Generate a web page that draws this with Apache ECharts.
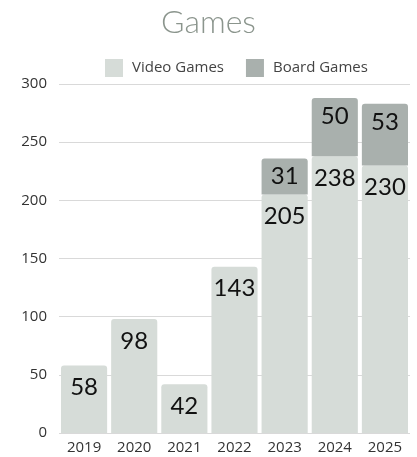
<!DOCTYPE html>
<html>
<head>
<meta charset="utf-8">
<script src="https://cdn.jsdelivr.net/npm/echarts@6/dist/echarts.min.js"></script>
<style>html,body{margin:0;padding:0;background:#fff}#c{width:417px;height:457px}</style>
</head>
<body>
<div id="c"></div>
<script>
const years = ['2019', '2020', '2021', '2022', '2023', '2024', '2025'];
const videoGames = [58, 98, 42, 143, 205, 238, 230];
const boardGames = [null, null, null, null, 31, 50, 53];
const yTicks = { min: 0, max: 300, interval: 50 };

const chart = echarts.init(document.getElementById('c'), null, { renderer: 'canvas' });
const labelStyle = {
  show: true,
  position: 'insideTop',
  distance: 10,
  fontFamily: 'Lato',
  fontSize: 24,
  color: '#111'
};
chart.setOption({
  animation: false,
  title: {
    text: 'Games',
    left: 'center',
    top: 2,
    textStyle: { fontFamily: 'Lato', fontWeight: 300, fontSize: 32, color: '#8b958d' }
  },
  legend: {
    top: 54,
    left: 100,
    itemWidth: 18,
    itemHeight: 18,
    itemGap: 22,
    icon: 'rect',
    textStyle: { fontFamily: 'Open Sans', fontSize: 15, color: '#444', padding: [0, 0, 0, 4] },
    data: ['Video Games', 'Board Games']
  },
  grid: { left: 59, right: 7, top: 84, bottom: 24 },
  xAxis: {
    type: 'category',
    data: years,
    axisTick: { show: false },
    axisLine: { show: false },
    axisLabel: { fontFamily: 'Open Sans', fontSize: 15, color: '#333', margin: 7 }
  },
  yAxis: {
    type: 'value',
    min: yTicks.min,
    max: yTicks.max,
    interval: yTicks.interval,
    axisLine: { show: false },
    axisTick: { show: false },
    axisLabel: { fontFamily: 'Open Sans', fontSize: 15, color: '#333', margin: 12 },
    splitLine: { lineStyle: { color: '#d9d9d9', width: 1 } }
  },
  series: [
    {
      name: 'Video Games',
      type: 'bar',
      stack: 'g',
      data: videoGames,
      barCategoryGap: '8%',
      itemStyle: { color: '#d6dcd8', borderRadius: [3, 3, 0, 0] },
      label: labelStyle
    },
    {
      name: 'Board Games',
      type: 'bar',
      stack: 'g',
      data: boardGames,
      itemStyle: { color: '#a9b0ad', borderRadius: [3, 3, 0, 0] },
      label: Object.assign({}, labelStyle, { distance: 6 })
    }
  ]
});
</script>
</body>
</html>
